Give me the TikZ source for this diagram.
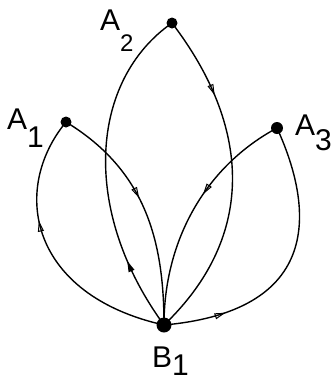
\documentclass[tikz,border=0pt]{standalone}
\usepackage{fontspec}
\setmainfont{Liberation Sans}
\usetikzlibrary{arrows.meta,decorations.markings}
\newcommand\glab[4]{#1\raisebox{-#3pt}{\fontsize{#4}{#4}\selectfont #2}}
\tikzset{
  edge/.style={line width=1.4pt},
  tipopen/.style={postaction={decorate},decoration={markings,mark=at position #1 with {\arrow[line width=1pt]{Triangle[open,length=11pt,width=6pt]}}}},
  tipfull/.style={postaction={decorate},decoration={markings,mark=at position #1 with {\arrow{Triangle[length=11pt,width=6pt]}}}},
  dot/.style={circle,fill,inner sep=0pt,minimum size=#1},
  lbl/.style={font=\fontsize{30}{30}\selectfont,inner sep=0pt,anchor=north west}
}
\begin{document}
\begin{tikzpicture}[x=1pt,y=-1pt]
\useasboundingbox (0,0) rectangle (335,384);
\node[dot=11pt] (A1) at (66,122) {};
\node[dot=11pt] (A2) at (172,23) {};
\node[dot=12pt] (A3) at (277,128) {};
\node[dot=15pt] (B) at (164,325) {};
% A1
\draw[edge,tipopen=0.62] (B.center) .. controls (30,295) and (10,190) .. (A1.center);
\draw[edge,tipopen=0.45] (A1.center) .. controls (145,170) and (164,240) .. (B.center);
% A2
\draw[edge,tipfull=0.22] (B.center) .. controls (80,210) and (90,80) .. (A2.center);
\draw[edge,tipopen=0.25] (A2.center) .. controls (250,125) and (258,235) .. (B.center);
% A3
\draw[edge,tipopen=0.42] (A3.center) .. controls (206,166) and (164,240) .. (B.center);
\draw[edge,tipopen=0.22] (B.center) .. controls (330,310) and (310,200) .. (A3.center);
% labels
\node[lbl] (lA1) at (7,109) {\glab{A}{1}{18}{30}};
\node[lbl] (lA2) at (100,10) {\glab{A}{2}{21}{24}};
\node[lbl] (lA3) at (295,115) {\glab{A}{3}{15}{30}};
\node[lbl] (lB) at (152,347) {\glab{B}{1}{8}{30}};
\end{tikzpicture}
\end{document}
